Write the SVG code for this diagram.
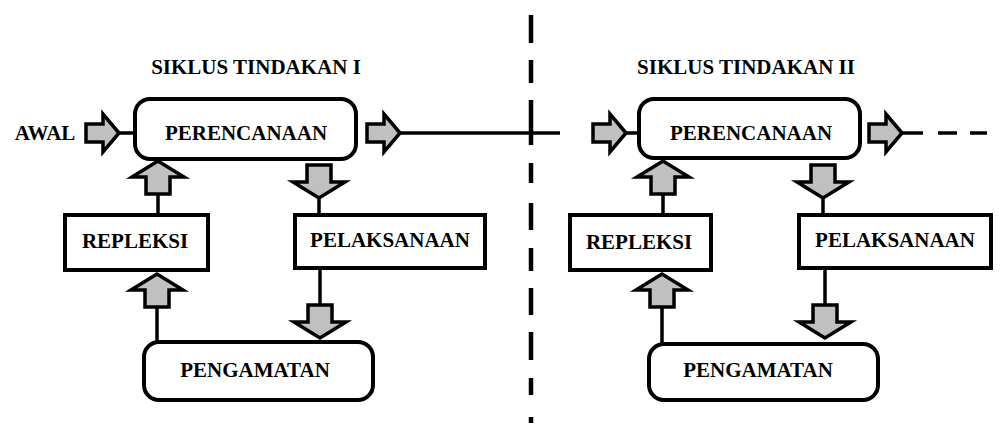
<svg xmlns="http://www.w3.org/2000/svg" width="1005" height="428" viewBox="0 0 1005 428">
  <style>
    .box { fill: #ffffff; stroke: #000000; stroke-width: 4; }
    .lbl { font-family: "Liberation Serif", "Times New Roman", serif; font-weight: bold; font-size: 21px; fill: #000000; text-anchor: middle; }
    .ttl { font-family: "Liberation Serif", "Times New Roman", serif; font-weight: bold; font-size: 21px; fill: #000000; text-anchor: middle; }
    .ln { stroke: #000000; stroke-width: 3.5; fill: none; }
    .arr { fill: #c0c0c0; stroke: #000000; stroke-width: 3.5; stroke-linejoin: miter; stroke-miterlimit: 6; }
    .sep { stroke: #000000; stroke-width: 4.5; fill: none; }
  </style>
  <defs>
    <!-- block arrows, tip at the origin -->
    <path id="arrR" class="arr" d="M0,0 L-16,-19 L-16,-9 L-33,-9 L-33,9 L-16,9 L-16,19 Z"/>
    <path id="arrD" class="arr" d="M0,0 L-26,-16 L-12,-16 L-12,-33 L12,-33 L12,-16 L26,-16 Z"/>
    <path id="arrU" class="arr" d="M0,0 L-26,16 L-12,16 L-12,33 L12,33 L12,16 L26,16 Z"/>
  </defs>
  <rect width="1005" height="428" fill="#ffffff"/>

  <!-- dividing line between the two cycles -->
  <g id="divider">
    <line class="sep" x1="531" y1="15" x2="531" y2="43"/>
    <line class="sep" x1="531" y1="60" x2="531" y2="83"/>
    <line class="sep" x1="531" y1="100" x2="531" y2="145"/>
    <line class="sep" x1="531" y1="163" x2="531" y2="183"/>
    <line class="sep" x1="531" y1="203" x2="531" y2="230"/>
    <line class="sep" x1="531" y1="248" x2="531" y2="271"/>
    <line class="sep" x1="531" y1="288" x2="531" y2="315"/>
    <line class="sep" x1="531" y1="332" x2="531" y2="360"/>
    <line class="sep" x1="531" y1="378" x2="531" y2="395"/>
    <line class="sep" x1="531" y1="417" x2="531" y2="423"/>
  </g>

  <!-- titles -->
  <text class="ttl" x="256" y="74">SIKLUS TINDAKAN I</text>
  <text class="ttl" x="746" y="74">SIKLUS TINDAKAN II</text>
  <text id="awal" class="lbl" x="45" y="140">AWAL</text>

  <g id="connectors">
    <!-- cycle I -->
    <line class="ln" x1="117" y1="133" x2="136" y2="133"/>
    <line class="ln" x1="399" y1="133" x2="560" y2="133"/>
    <line class="ln" x1="158" y1="192" x2="158" y2="215"/>
    <line class="ln" x1="319" y1="197" x2="319" y2="215"/>
    <line class="ln" x1="157" y1="305" x2="157" y2="342"/>
    <line class="ln" x1="320" y1="268" x2="320" y2="306"/>
    <use href="#arrR" x="119" y="133"/>
    <use href="#arrR" x="400" y="133"/>
    <use href="#arrU" x="158" y="161"/>
    <use href="#arrD" x="319" y="198"/>
    <use href="#arrU" x="157" y="274"/>
    <use href="#arrD" x="320" y="338"/>

    <!-- cycle II -->
    <line class="ln" x1="625" y1="133" x2="640" y2="133"/>
    <line class="ln" x1="901" y1="133" x2="923" y2="133"/>
    <line class="ln" x1="938" y1="133" x2="957" y2="133"/>
    <line class="ln" x1="970" y1="133" x2="987" y2="133"/>
    <line class="ln" x1="663" y1="192" x2="663" y2="215"/>
    <line class="ln" x1="823" y1="197" x2="823" y2="215"/>
    <line class="ln" x1="662" y1="305" x2="662" y2="344"/>
    <line class="ln" x1="825" y1="268" x2="825" y2="306"/>
    <use href="#arrR" x="626" y="133"/>
    <use href="#arrR" x="902" y="133"/>
    <use href="#arrU" x="663" y="161"/>
    <use href="#arrD" x="823" y="198"/>
    <use href="#arrU" x="662" y="274"/>
    <use href="#arrD" x="825" y="338"/>
  </g>

  <!-- cycle I nodes -->
  <g id="perencanaan1">
    <rect class="box" x="135" y="99" width="221" height="60" rx="15"/>
    <text class="lbl" x="246" y="140">PERENCANAAN</text>
  </g>
  <g id="pelaksanaan1">
    <rect class="box" x="295" y="215" width="190" height="53"/>
    <text class="lbl" x="390" y="247">PELAKSANAAN</text>
  </g>
  <g id="pengamatan1">
    <rect class="box" x="144" y="342" width="229" height="58" rx="15"/>
    <text class="lbl" x="255" y="377">PENGAMATAN</text>
  </g>
  <g id="repleksi1">
    <rect class="box" x="65" y="215" width="143" height="55"/>
    <text class="lbl" x="135" y="248">REPLEKSI</text>
  </g>

  <!-- cycle II nodes -->
  <g id="perencanaan2">
    <rect class="box" x="639" y="99" width="221" height="59" rx="15"/>
    <text class="lbl" x="751" y="140">PERENCANAAN</text>
  </g>
  <g id="pelaksanaan2">
    <rect class="box" x="799" y="215" width="192" height="53"/>
    <text class="lbl" x="895" y="247">PELAKSANAAN</text>
  </g>
  <g id="pengamatan2">
    <rect class="box" x="649" y="344" width="229" height="56" rx="15"/>
    <text class="lbl" x="758" y="377">PENGAMATAN</text>
  </g>
  <g id="repleksi2">
    <rect class="box" x="570" y="215" width="141" height="55"/>
    <text class="lbl" x="639" y="249">REPLEKSI</text>
  </g>
</svg>
